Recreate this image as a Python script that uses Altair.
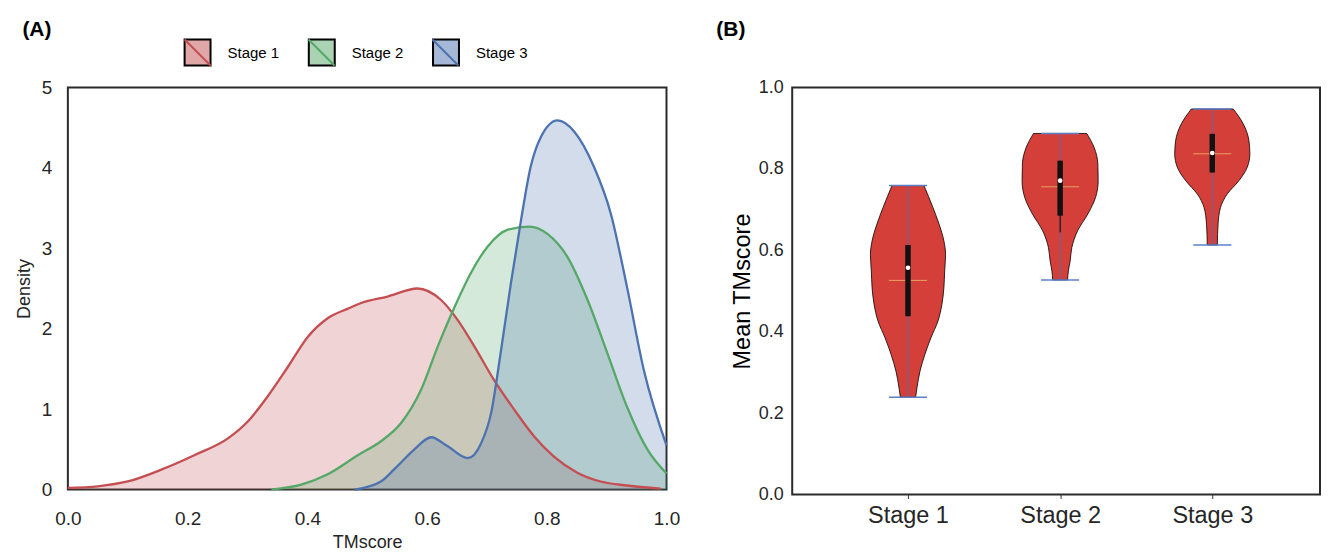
import json
import altair as alt
import pandas as pd

FONT = "Liberation Sans"
TXT = "#262626"

stage_names = ["Stage 1", "Stage 2", "Stage 3"]
line_colors = ["#c44e52", "#55a868", "#4c72b0"]
fill_colors = ["rgba(196,78,82,0.5)", "rgba(85,168,104,0.5)", "rgba(76,114,176,0.5)"]

# ---- Panel A: density curves ----
s1_x = [0.0, 0.05, 0.1, 0.157, 0.212, 0.268, 0.301, 0.334, 0.368, 0.401, 0.434, 0.468,
        0.49, 0.534, 0.584, 0.623, 0.651, 0.679, 0.712, 0.746, 0.779, 0.812, 0.851,
        0.89, 0.934, 0.99]
s1_d = [0.02, 0.04, 0.10, 0.25, 0.43, 0.64, 0.85, 1.16, 1.53, 1.90, 2.13, 2.25,
        2.32, 2.40, 2.50, 2.36, 2.11, 1.78, 1.36, 0.99, 0.66, 0.41, 0.21,
        0.10, 0.05, 0.01]
s2_x = [0.34, 0.39, 0.434, 0.485, 0.523, 0.557, 0.59, 0.618, 0.646, 0.673, 0.701,
        0.734, 0.771, 0.801, 0.834, 0.868, 0.901, 0.934, 0.968, 1.0]
s2_d = [0.0, 0.06, 0.19, 0.43, 0.60, 0.83, 1.24, 1.78, 2.27, 2.69, 3.02,
        3.23, 3.27, 3.18, 2.90, 2.36, 1.70, 1.03, 0.50, 0.20]
s3_x = [0.479, 0.523, 0.545, 0.579, 0.607, 0.634, 0.668, 0.69, 0.707, 0.723, 0.74,
        0.757, 0.773, 0.79, 0.818, 0.846, 0.879, 0.907, 0.934, 0.962, 1.0]
s3_d = [0.0, 0.10, 0.25, 0.50, 0.65, 0.54, 0.39, 0.57, 0.95, 1.70, 2.56,
        3.35, 4.01, 4.38, 4.59, 4.45, 4.01, 3.43, 2.52, 1.49, 0.55]

x_ticks_a = [0.0, 0.2, 0.4, 0.6, 0.8, 1.0]
y_ticks_a = [0, 1, 2, 3, 4, 5]

# ---- Panel B: violin outlines (value, half-width in category units) ----
v1_y = [0.239, 0.262, 0.303, 0.344, 0.385, 0.426, 0.467, 0.508, 0.549, 0.59, 0.623, 0.672, 0.705, 0.759]
v1_w = [0.050, 0.059, 0.079, 0.111, 0.151, 0.197, 0.223, 0.236, 0.241, 0.247, 0.236, 0.197, 0.164, 0.105]
v2_y = [0.527, 0.549, 0.574, 0.607, 0.648, 0.689, 0.730, 0.771, 0.812, 0.853, 0.887]
v2_w = [0.049, 0.054, 0.066, 0.077, 0.115, 0.182, 0.233, 0.250, 0.248, 0.223, 0.175]
v3_y = [0.613, 0.664, 0.705, 0.738, 0.771, 0.804, 0.837, 0.869, 0.911, 0.947]
v3_w = [0.033, 0.038, 0.054, 0.098, 0.175, 0.230, 0.247, 0.241, 0.203, 0.138]

stage_pos = [1, 2, 3]
v_min = [0.239, 0.527, 0.613]
v_max = [0.759, 0.887, 0.947]
q1 = [0.438, 0.685, 0.791]
q3 = [0.613, 0.820, 0.886]
medians = [0.557, 0.771, 0.839]
means = [0.526, 0.756, 0.837]
whisk_lo = [0.438, 0.644, 0.791]
whisk_hi = [0.613, 0.820, 0.886]
y_ticks_b = [0.0, 0.2, 0.4, 0.6, 0.8, 1.0]

# ---------------- Panel A ----------------
rows = []
for name, xs, ds in zip(stage_names, [s1_x, s2_x, s3_x], [s1_d, s2_d, s3_d]):
    for x, d in zip(xs, ds):
        rows.append({"stage": name, "tm": x, "density": d})
kde = pd.DataFrame(rows)

base_a = alt.Chart(kde).transform_calculate(
    stage_line="datum.stage"
).encode(
    x=alt.X("tm:Q", scale=alt.Scale(domain=[0, 1], nice=False),
            axis=alt.Axis(title="TMscore", values=x_ticks_a, format=".1f",
                          labelFontSize=19, titleFontSize=18, labelPadding=20,
                          titlePadding=5, labelFlush=False)),
    y=alt.Y("density:Q", scale=alt.Scale(domain=[0, 5], nice=False), stack=None,
            axis=alt.Axis(title="Density", values=y_ticks_a, format="d",
                          labelFontSize=19, titleFontSize=18, labelPadding=16,
                          titlePadding=8)),
)

leg_common = dict(orient="none", direction="horizontal", legendX=116, legendY=-49,
                  title=None, labelFontSize=15, labelFont=FONT, labelColor="black",
                  labelOffset=16, symbolSize=676, padding=0, symbolStrokeWidth=2,
                  symbolOpacity=1)

areas = base_a.mark_area(fillOpacity=0.5, interpolate="monotone").encode(
    fill=alt.Fill("stage:N", scale=alt.Scale(domain=stage_names, range=fill_colors),
                  legend=alt.Legend(symbolType="square", symbolStrokeColor="black",
                                    columnPadding=25.5, zindex=0, **leg_common)),
)
lines = base_a.mark_line(strokeWidth=2.3, interpolate="monotone").encode(
    stroke=alt.Stroke("stage_line:N", scale=alt.Scale(range=line_colors),
                      legend=alt.Legend(symbolType="M-1,-1L1,1", labelExpr="''",
                                        columnPadding=77.2, zindex=1, **leg_common)),
)

panel_a = alt.layer(areas, lines).properties(
    width=600, height=403,
    title=alt.TitleParams("(A)", anchor="start", fontSize=21, fontWeight="bold",
                          font=FONT, color="black", dx=7, offset=39),
)

# ---------------- Panel B ----------------
vrows = []
for p, ys, ws in zip(stage_pos, [v1_y, v2_y, v3_y], [v1_w, v2_w, v3_w]):
    for y, w in zip(ys, ws):
        vrows.append({"pos": p, "v": y, "hw": w})
vdf = pd.DataFrame(vrows)

sdf = pd.DataFrame({"pos": stage_pos, "vmin": v_min, "vmax": v_max, "q1": q1, "q3": q3,
                    "med": medians, "mean": means, "wlo": whisk_lo, "whi": whisk_hi})

label_expr = json.dumps(stage_names) + "[datum.value - 1]"
xs_b = alt.Scale(domain=[0.239, 3.708], nice=False, zero=False)
ys_b = alt.Scale(domain=[0, 1], nice=False)

x_axis_b = alt.Axis(title=None, values=stage_pos, labelExpr=label_expr, labelFontSize=23.5,
                    ticks=True, tickSize=4, tickColor="#333333", labelPadding=5)
y_axis_b = alt.Axis(title="Mean TMscore", values=y_ticks_b, format=".1f", labelFontSize=18,
                    titleFontSize=23.5, labelPadding=9, titlePadding=4, titleColor="black")

violins = alt.Chart(vdf).transform_calculate(
    left="datum.pos - datum.hw", right="datum.pos + datum.hw"
).mark_area(orient="horizontal", interpolate="monotone", fill="#D43F3A",
            stroke="black", strokeWidth=0.8).encode(
    y=alt.Y("v:Q", scale=ys_b, axis=y_axis_b),
    x=alt.X("left:Q", scale=xs_b, axis=x_axis_b),
    x2="right:Q",
    detail="pos:N",
)

sb = alt.Chart(sdf).transform_calculate(
    capl="datum.pos - 0.125", capr="datum.pos + 0.125"
)

cbar = sb.mark_rule(color="#4c72b0", opacity=0.75, strokeWidth=1.2).encode(
    x=alt.X("pos:Q", scale=xs_b), y="vmin:Q", y2="vmax:Q")
caps = sb.transform_fold(["vmin", "vmax"], as_=["k", "val"]).mark_rule(
    color="#5b80c8", strokeWidth=1.5).encode(
    x=alt.X("capl:Q", scale=xs_b), x2="capr:Q", y=alt.Y("val:Q", scale=ys_b))
mean_line = sb.mark_rule(color="#e8a060", strokeWidth=1).encode(
    x=alt.X("capl:Q", scale=xs_b), x2="capr:Q", y=alt.Y("mean:Q", scale=ys_b))
whisk = sb.mark_rule(color="black", strokeWidth=1).encode(
    x=alt.X("pos:Q", scale=xs_b), y="wlo:Q", y2="whi:Q")
iqr = sb.mark_rule(color="#111111", strokeWidth=5.5).encode(
    x=alt.X("pos:Q", scale=xs_b), y="q1:Q", y2="q3:Q")
med = sb.mark_point(filled=True, color="white", size=22, opacity=1).encode(
    x=alt.X("pos:Q", scale=xs_b), y=alt.Y("med:Q", scale=ys_b))

panel_b = alt.layer(violins, cbar, caps, mean_line, whisk, iqr, med).properties(
    width=529, height=408,
    title=alt.TitleParams("(B)", anchor="start", fontSize=21, fontWeight="bold",
                          font=FONT, color="black", dx=-14, offset=39),
)

chart = alt.hconcat(panel_a, panel_b, spacing=126, bounds="flush").properties(
    padding={"left": 6, "top": 9, "right": 0, "bottom": 5}
).configure(
    font=FONT,
).configure_view(
    stroke="#2b2b2b", strokeWidth=2
).configure_axis(
    domain=False, grid=False, ticks=False, labelFont=FONT, titleFont=FONT,
    labelColor=TXT, titleColor=TXT, titleFontWeight="normal",
)

chart.save("out.html", embed_options={"renderer": "svg", "actions": False})
